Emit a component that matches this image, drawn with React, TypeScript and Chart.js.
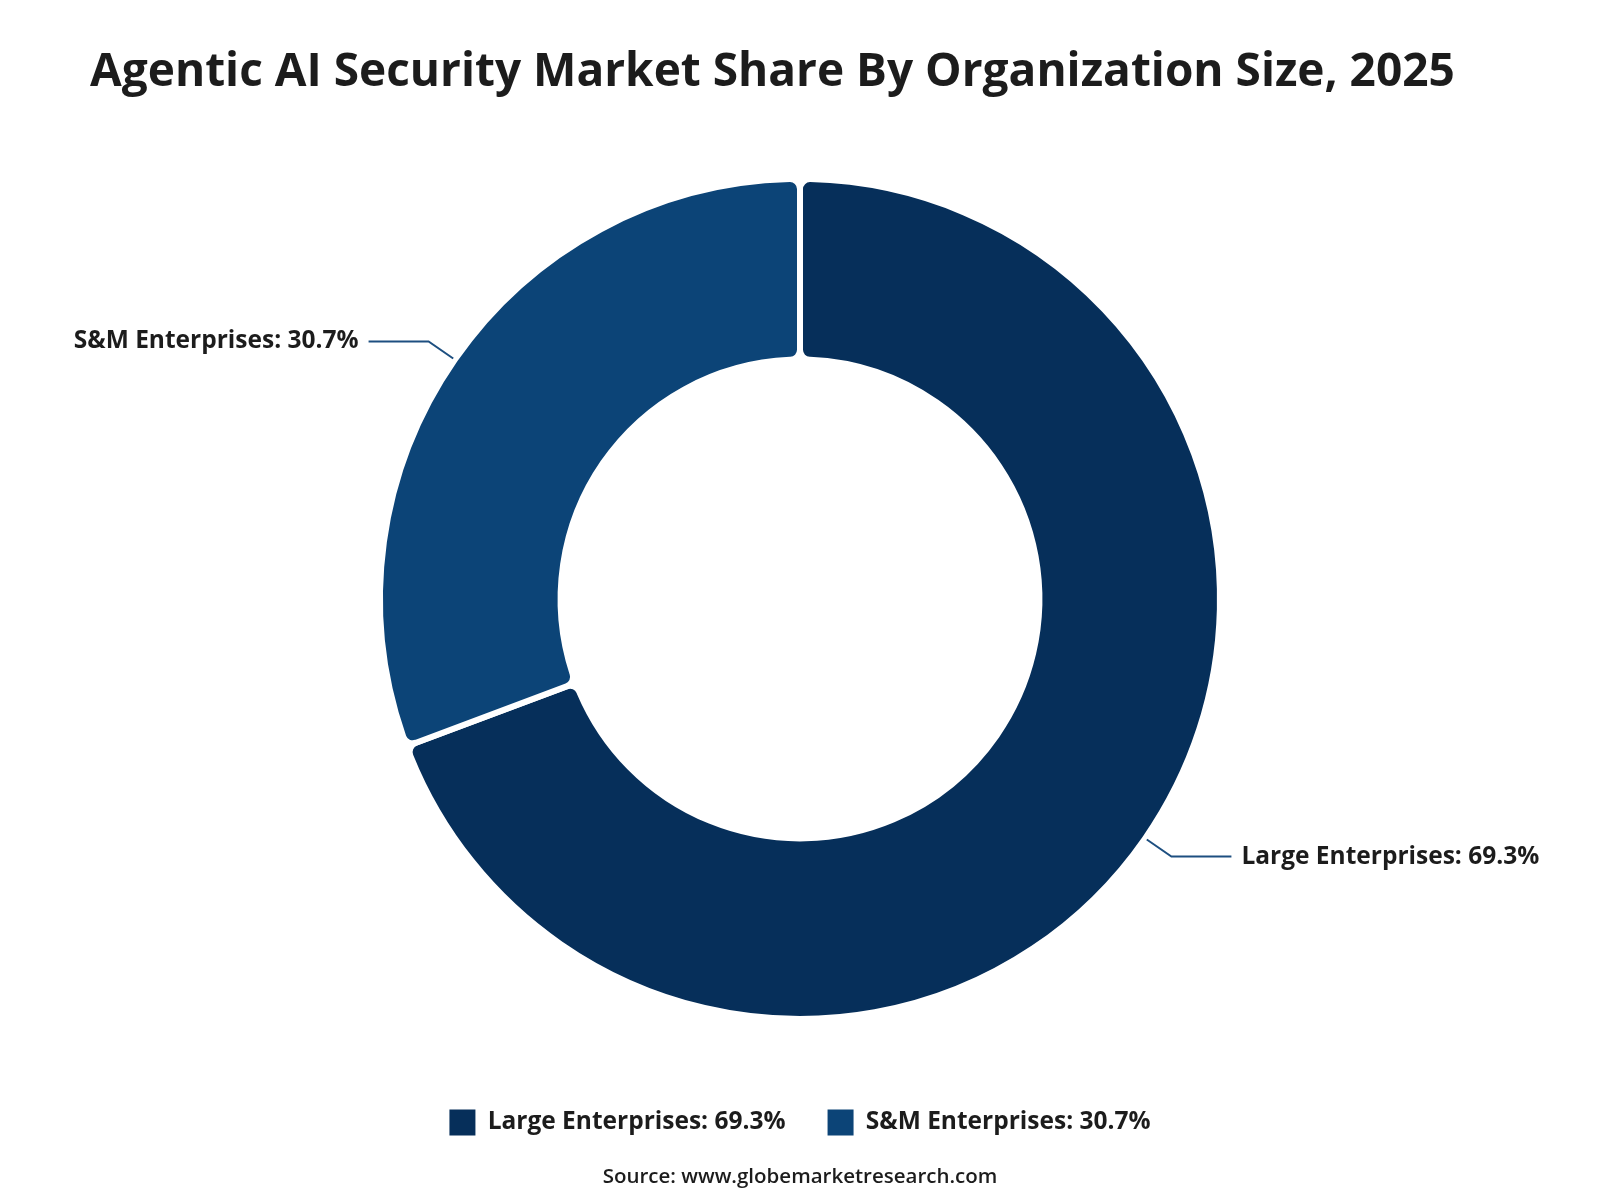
import { useEffect, useRef } from "react";
import { Chart, registerables } from "chart.js";

Chart.register(...registerables);

const TITLE = "Agentic AI Security Market Share By Organization Size, 2025";
const SOURCE = "Source: www.globemarketresearch.com";
const categories = ["Large Enterprises", "S&M Enterprises"];
const shares = [69.3, 30.7];
const colors = ["#062f5a", "#0c4477"];

const FONT = "'Open Sans', 'Noto Sans', sans-serif";
const TEXT_COLOR = "#1c1c1c";

const labelText = (i: number) => `${categories[i]}: ${shares[i].toFixed(1)}%`;

// Elbow leader lines with outside labels for each slice
const leaderPlugin = {
  id: "leaderLabels",
  afterDatasetsDraw(chart: any) {
    const ctx = chart.ctx as CanvasRenderingContext2D;
    const meta = chart.getDatasetMeta(0);
    meta.data.forEach((arc: any, i: number) => {
      const { x, y, startAngle, endAngle, outerRadius } = arc.getProps(
        ["x", "y", "startAngle", "endAngle", "outerRadius"],
        true
      );
      const mid = (startAngle + endAngle) / 2;
      const cos = Math.cos(mid);
      const sin = Math.sin(mid);
      const r0 = outerRadius + 2;
      const r1 = outerRadius + 32;
      const x0 = x + cos * r0;
      const y0 = y + sin * r0;
      const x1 = x + cos * r1;
      const y1 = y + sin * r1;
      const dir = cos >= 0 ? 1 : -1;
      const x2 = x1 + dir * 60;
      ctx.save();
      ctx.strokeStyle = "#1d4f80";
      ctx.lineWidth = 2;
      ctx.beginPath();
      ctx.moveTo(x0, y0);
      ctx.lineTo(x1, y1);
      ctx.lineTo(x2, y1);
      ctx.stroke();
      ctx.fillStyle = TEXT_COLOR;
      ctx.font = `bold 24.5px ${FONT}`;
      ctx.textBaseline = "middle";
      ctx.textAlign = dir > 0 ? "left" : "right";
      ctx.fillText(labelText(i), x2 + dir * 10, y1);
      ctx.restore();
    });
  },
};

// Source line under the legend
const sourcePlugin = {
  id: "sourceNote",
  afterDraw(chart: any) {
    const ctx = chart.ctx as CanvasRenderingContext2D;
    ctx.save();
    ctx.fillStyle = TEXT_COLOR;
    ctx.font = `600 20.5px ${FONT}`;
    ctx.textAlign = "center";
    ctx.textBaseline = "middle";
    ctx.fillText(SOURCE, chart.width / 2, 1177);
    ctx.restore();
  },
};

export default function App() {
  const canvasRef = useRef<HTMLCanvasElement | null>(null);

  useEffect(() => {
    document.body.style.margin = "0";
    const canvas = canvasRef.current;
    if (!canvas) return;
    const chart = new Chart(canvas, {
      type: "doughnut",
      data: {
        labels: categories,
        datasets: [
          {
            data: shares,
            backgroundColor: colors,
            borderColor: "#ffffff",
            borderWidth: 6,
            borderRadius: 10,
          },
        ],
      },
      options: {
        responsive: false,
        animation: false,
        events: [],
        radius: 420,
        cutout: "57%",
        layout: { padding: { left: 90, right: 90, top: 0, bottom: 54.5 } },
        plugins: {
          tooltip: { enabled: false },
          title: {
            display: true,
            text: TITLE,
            align: "start",
            color: TEXT_COLOR,
            font: { family: FONT, size: 46, weight: "bold" },
            padding: { top: 45, bottom: 30.3 },
          },
          legend: {
            display: true,
            position: "bottom",
            labels: {
              color: TEXT_COLOR,
              font: { family: FONT, size: 24.5, weight: "bold" },
              boxWidth: 26,
              boxHeight: 26,
              padding: 42,
              useBorderRadius: true,
              borderRadius: 5,
              generateLabels: () =>
                categories.map((_, i) => ({
                  text: labelText(i),
                  fillStyle: colors[i],
                  strokeStyle: colors[i],
                  lineWidth: 0,
                  hidden: false,
                  index: i,
                  fontColor: TEXT_COLOR,
                })),
            },
          },
        },
      },
      plugins: [leaderPlugin, sourcePlugin],
    });
    return () => chart.destroy();
  }, []);

  return <canvas ref={canvasRef} width={1600} height={1200} />;
}
